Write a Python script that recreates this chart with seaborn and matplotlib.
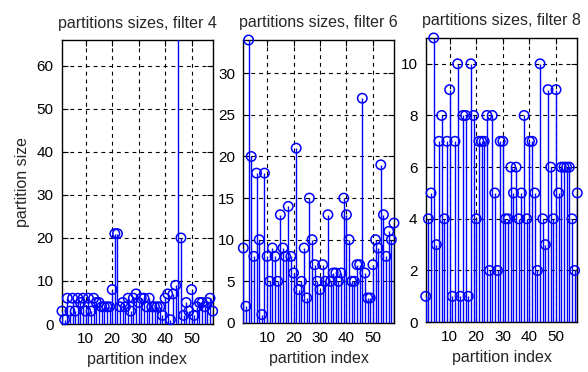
import numpy as np
import pandas as pd
import matplotlib
matplotlib.use("Agg")
import matplotlib.pyplot as plt
import seaborn as sns

# partition sizes per filter (partition index runs 1..58)
sizes_filter4 = [3, 1, 6, 3, 6, 3, 6, 5, 6, 3, 6, 3, 6, 5, 5, 4, 4, 4, 4, 8,
                 21, 21, 4, 5, 4, 6, 3, 6, 7, 5, 6, 6, 4, 6, 4, 4, 4, 4, 2, 6,
                 7, 1, 7, 9, 70, 20, 2, 5, 3, 8, 2, 4, 5, 5, 4, 5, 6, 3]
sizes_filter6 = [9, 2, 34, 20, 8, 18, 10, 1, 18, 8, 5, 9, 8, 5, 13, 9, 8, 14, 8, 6,
                 21, 4, 5, 9, 3, 15, 10, 7, 5, 4, 7, 5, 13, 5, 6, 6, 5, 6, 15, 13,
                 10, 5, 5, 7, 7, 27, 6, 3, 3, 7, 10, 9, 19, 13, 8, 11, 10, 12]
sizes_filter8 = [1, 4, 5, 11, 3, 7, 8, 4, 7, 9, 1, 7, 10, 1, 8, 8, 1, 10, 8, 4,
                 7, 7, 7, 8, 2, 8, 5, 2, 7, 7, 4, 4, 6, 5, 6, 4, 5, 8, 4, 7,
                 7, 5, 2, 10, 4, 3, 9, 6, 4, 9, 5, 6, 6, 6, 6, 4, 2, 5]

titles = ["partitions sizes, filter 4", "partitions sizes, filter 6", "partitions sizes, filter 8"]
y_limits = [66, 34, 11]
y_steps = [10, 5, 2]
x_ticks = [10, 20, 30, 40, 50]

sns.set_style("white")
plt.rcParams["font.family"] = ["Liberation Sans", "DejaVu Sans"]

fig = plt.figure(figsize=(5.88, 3.72), dpi=100)
boxes = [
    [0.1054, 0.129, 0.2563, 0.7634],
    [0.4138, 0.132, 0.2563, 0.7605],
    [0.7240, 0.134, 0.2578, 0.7640],
]
stem_color = "#0000ff"

for k, (vals, title, ytop, ystep, box) in enumerate(
        zip([sizes_filter4, sizes_filter6, sizes_filter8], titles, y_limits, y_steps, boxes)):
    ax = fig.add_axes(box)
    df = pd.DataFrame({"index": np.arange(1, len(vals) + 1), "size": vals})
    ax.vlines(df["index"], 0, df["size"], color=stem_color, linewidth=1.0, zorder=3)
    # stem heads: only those inside the visible value range get a circle
    heads = df[df["size"] <= ytop]
    sns.scatterplot(data=heads, x="index", y="size", ax=ax, marker="o", s=46,
                    facecolors="none", edgecolor=stem_color, linewidth=1.1,
                    zorder=4, legend=False)
    for coll in ax.collections:
        coll.set_clip_on(False)
    ax.collections[0].set_clip_on(True)
    ax.set_xlim(1, len(vals))
    ax.set_ylim(0, ytop)
    ax.set_xticks(x_ticks)
    ax.set_yticks(np.arange(0, ytop + 0.01, ystep))
    ax.grid(True, color="black", linestyle=(0, (3.5, 3.5)), linewidth=0.8, zorder=1)
    ax.set_axisbelow(True)
    for sp in ax.spines.values():
        sp.set_color("black")
        sp.set_linewidth(1.0)
        sp.set_visible(True)
        sp.set_zorder(2)
    ax.tick_params(direction="in", length=4, width=0.8, labelsize=11, colors="black",
                   pad=6, top=True, right=True, bottom=True, left=True)
    ax.set_title(title, fontsize=11.5, pad=9)
    ax.set_xlabel("partition index", fontsize=11.5, labelpad=4)
    ax.set_ylabel("partition size" if k == 0 else "", fontsize=11.5, labelpad=5)

fig.savefig("out.png", dpi=100, facecolor="white")
